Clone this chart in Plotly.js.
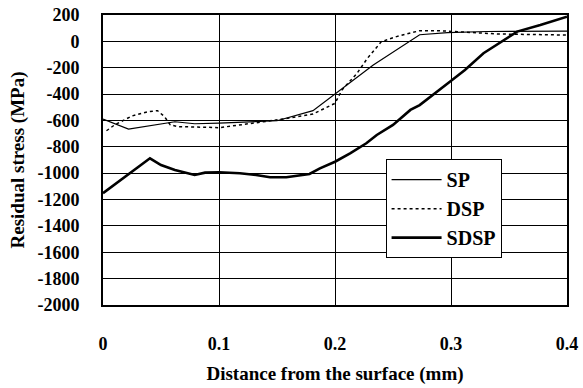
<!DOCTYPE html>
<html>
<head>
<meta charset="utf-8">
<script src="https://cdn.plot.ly/plotly-3.0.1.min.js"></script>
<style>
html,body{margin:0;padding:0;background:#fff;}
#chart{width:583px;height:388px;}
</style>
</head>
<body>
<div id="chart"></div>
<script>
// Series data (x in mm, y in MPa)
const spX = [0, 0.022, 0.062, 0.079, 0.1, 0.15, 0.181, 0.203, 0.233, 0.273, 0.297, 0.331, 0.4];
const spY = [-590, -665, -610, -625, -620, -602, -526, -382, -179, 50, 66, 75, 78];

const dspX = [0.003, 0.010, 0.025, 0.039, 0.047, 0.053, 0.058, 0.065, 0.09, 0.1, 0.129, 0.159, 0.181, 0.193, 0.2, 0.206, 0.219, 0.228, 0.240, 0.253, 0.273, 0.29, 0.34, 0.4];
const dspY = [-678, -634, -566, -533, -526, -571, -634, -647, -652, -655, -621, -584, -551, -500, -470, -369, -242, -128, -2, 36, 81, 81, 56, 48];

const sdspX = [0, 0.0405, 0.05, 0.062, 0.079, 0.088, 0.1, 0.118, 0.132, 0.144, 0.158, 0.178, 0.187, 0.2, 0.213, 0.227, 0.236, 0.25, 0.265, 0.273, 0.299, 0.312, 0.328, 0.342, 0.357, 0.377, 0.4];
const sdspY = [-1152, -887, -938, -976, -1014, -996, -993, -1001, -1014, -1031, -1031, -1006, -963, -913, -849, -773, -710, -634, -520, -483, -306, -217, -90, -14, 74, 124, 187];

const yTickVals = [200, 0, -200, -400, -600, -800, -1000, -1200, -1400, -1600, -1800, -2000];
const yTickText = ["200", "0", "-200", "-400", "-600", "-800", "-1000", "-1200", "-1400", "-1600", "-1800", "-2000"];
const xTickVals = [0, 0.1, 0.2, 0.3, 0.4];
const xTickText = ["0", "0.1", "0.2", "0.3", "0.4"];

const fontFam = '"Liberation Serif", "Times New Roman", serif';

const traces = [
  {x: spX, y: spY, name: 'SP', mode: 'lines',
   line: {color: '#000', width: 1.2}},
  {x: dspX, y: dspY, name: 'DSP', mode: 'lines',
   line: {color: '#000', width: 1.5, dash: '3px,3px'}},
  {x: sdspX, y: sdspY, name: 'SDSP', mode: 'lines',
   line: {color: '#000', width: 2.6}}
];

const layout = {
  width: 583, height: 388,
  margin: {l: 103, r: 16, t: 15, b: 83},
  paper_bgcolor: '#fff', plot_bgcolor: '#fff',
  font: {family: fontFam, color: '#000', size: 18, weight: 'bold'},
  showlegend: true,
  legend: {
    x: 0.609, y: 0.503, xanchor: 'left', yanchor: 'top',
    bgcolor: '#fff', bordercolor: '#000', borderwidth: 1,
    font: {family: fontFam, size: 20, color: '#000', weight: 'bold'},
    itemwidth: 50, traceorder: 'normal'
  },
  xaxis: {
    range: [0, 0.4], tickvals: xTickVals, ticktext: xTickText,
    showgrid: true, gridcolor: '#000', gridwidth: 1,
    zeroline: false, showline: true, linecolor: '#000', linewidth: 2, mirror: true,
    ticks: 'outside', ticklen: 21, tickcolor: 'rgba(0,0,0,0)',
    tickfont: {family: fontFam, size: 18, weight: 'bold'},
    title: {text: 'Distance from the surface (mm)', standoff: 14,
            font: {family: fontFam, size: 19, weight: 'bold'}}
  },
  yaxis: {
    range: [-2000, 200], tickvals: yTickVals, ticktext: yTickText,
    showgrid: true, gridcolor: '#000', gridwidth: 1,
    zeroline: false, showline: true, linecolor: '#000', linewidth: 2, mirror: true,
    ticks: 'outside', ticklen: 18, tickcolor: 'rgba(0,0,0,0)',
    tickfont: {family: fontFam, size: 18, weight: 'bold'},
    title: {text: 'Residual stress (MPa)', standoff: 8,
            font: {family: fontFam, size: 19, weight: 'bold'}}
  }
};

Plotly.newPlot('chart', traces, layout, {staticPlot: true, displayModeBar: false});
</script>
</body>
</html>
